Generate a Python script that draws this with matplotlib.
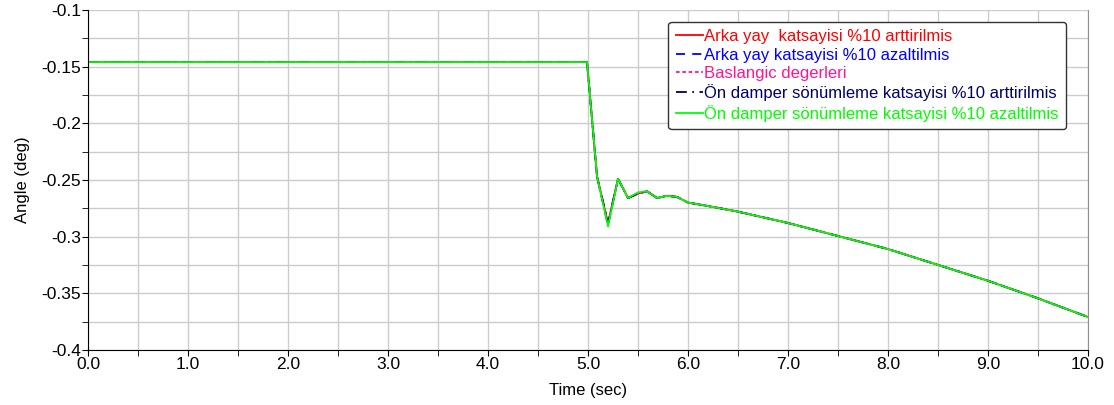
import matplotlib.pyplot as plt
from matplotlib.ticker import MultipleLocator

plt.rcParams['font.family'] = ['Liberation Sans', 'DejaVu Sans']

# zaman (s) ve aci (deg) degerleri
zaman = [0.0, 4.99, 5.09, 5.20, 5.30, 5.40, 5.50, 5.59, 5.69, 5.79, 5.89,
         6.0, 6.2, 6.5, 7.0, 7.5, 8.0, 8.5, 9.0, 9.5, 10.0]
aci_baslangic = [-0.146, -0.146, -0.247, -0.289, -0.249, -0.266, -0.262, -0.260, -0.266, -0.264, -0.265,
                 -0.270, -0.273, -0.278, -0.288, -0.2995, -0.311, -0.325, -0.339, -0.3545, -0.371]
aci_arka_art = [-0.146, -0.146, -0.247, -0.288, -0.249, -0.266, -0.262, -0.260, -0.266, -0.264, -0.265,
                -0.270, -0.273, -0.278, -0.288, -0.2995, -0.311, -0.325, -0.339, -0.3545, -0.371]
aci_arka_az = [-0.146, -0.146, -0.247, -0.290, -0.249, -0.266, -0.262, -0.260, -0.266, -0.264, -0.265,
               -0.270, -0.273, -0.278, -0.288, -0.2995, -0.311, -0.325, -0.339, -0.3545, -0.371]
aci_damp_art = [-0.146, -0.146, -0.247, -0.288, -0.249, -0.266, -0.262, -0.260, -0.266, -0.264, -0.265,
                -0.270, -0.273, -0.278, -0.288, -0.2995, -0.311, -0.325, -0.339, -0.3545, -0.371]
aci_damp_az = [-0.146, -0.146, -0.247, -0.291, -0.249, -0.266, -0.261, -0.260, -0.266, -0.264, -0.265,
               -0.270, -0.273, -0.278, -0.288, -0.2995, -0.311, -0.325, -0.339, -0.3545, -0.371]

etiketler = ["Arka yay  katsayisi %10 arttirilmis",
             "Arka yay katsayisi %10 azaltilmis",
             "Baslangic degerleri",
             "Ön damper sönümleme katsayisi %10 arttirilmis",
             "Ön damper sönümleme katsayisi %10 azaltilmis"]
renkler = ['#ff0000', '#0000ff', '#ff1493', '#000066', '#00ff00']

fig = plt.figure(figsize=(11.14, 4.05), dpi=100)
ax = fig.add_axes([0.079, 0.136, 0.8977, 0.8395])

seriler = [aci_arka_art, aci_arka_az, aci_baslangic, aci_damp_art, aci_damp_az]
stiller = ['-', (0, (5, 4)), (0, (2, 1.5)), (0, (6, 3, 1, 3)), '-']
for y, renk, stil, et in zip(seriler, renkler, stiller, etiketler):
    ax.plot(zaman, y, color=renk, linestyle=stil, linewidth=1.3, label=et)

ax.set_xlim(0, 10)
ax.set_ylim(-0.4, -0.1)
ax.xaxis.set_major_locator(MultipleLocator(1.0))
ax.xaxis.set_minor_locator(MultipleLocator(0.5))
ax.yaxis.set_major_locator(MultipleLocator(0.05))
ax.yaxis.set_minor_locator(MultipleLocator(0.025))
ax.set_xticklabels([f"{v:.1f}" for v in ax.get_xticks()])
ax.set_yticklabels([f"{v:g}" for v in ax.get_yticks()])
ax.grid(True, which='both', color='#cccccc', linewidth=1.0)
ax.set_axisbelow(True)
ax.tick_params(which='both', direction='out', length=4, labelsize=12.5, pad=1)
ax.spines['top'].set_visible(False)
ax.spines['right'].set_color('#909090')

ax.set_xlabel("Time (sec)", fontsize=12, labelpad=8)
ax.set_ylabel("Angle (deg)", fontsize=12, labelpad=8)

leg = ax.legend(loc='upper right', bbox_to_anchor=(0.978, 0.965), fontsize=12,
                handlelength=1.6, handletextpad=0.1, labelspacing=0.2,
                borderpad=0.45, borderaxespad=0, fancybox=True, framealpha=1,
                edgecolor='#333333')
for txt, renk in zip(leg.get_texts(), renkler):
    txt.set_color(renk)

fig.savefig("out.png", dpi=100)
